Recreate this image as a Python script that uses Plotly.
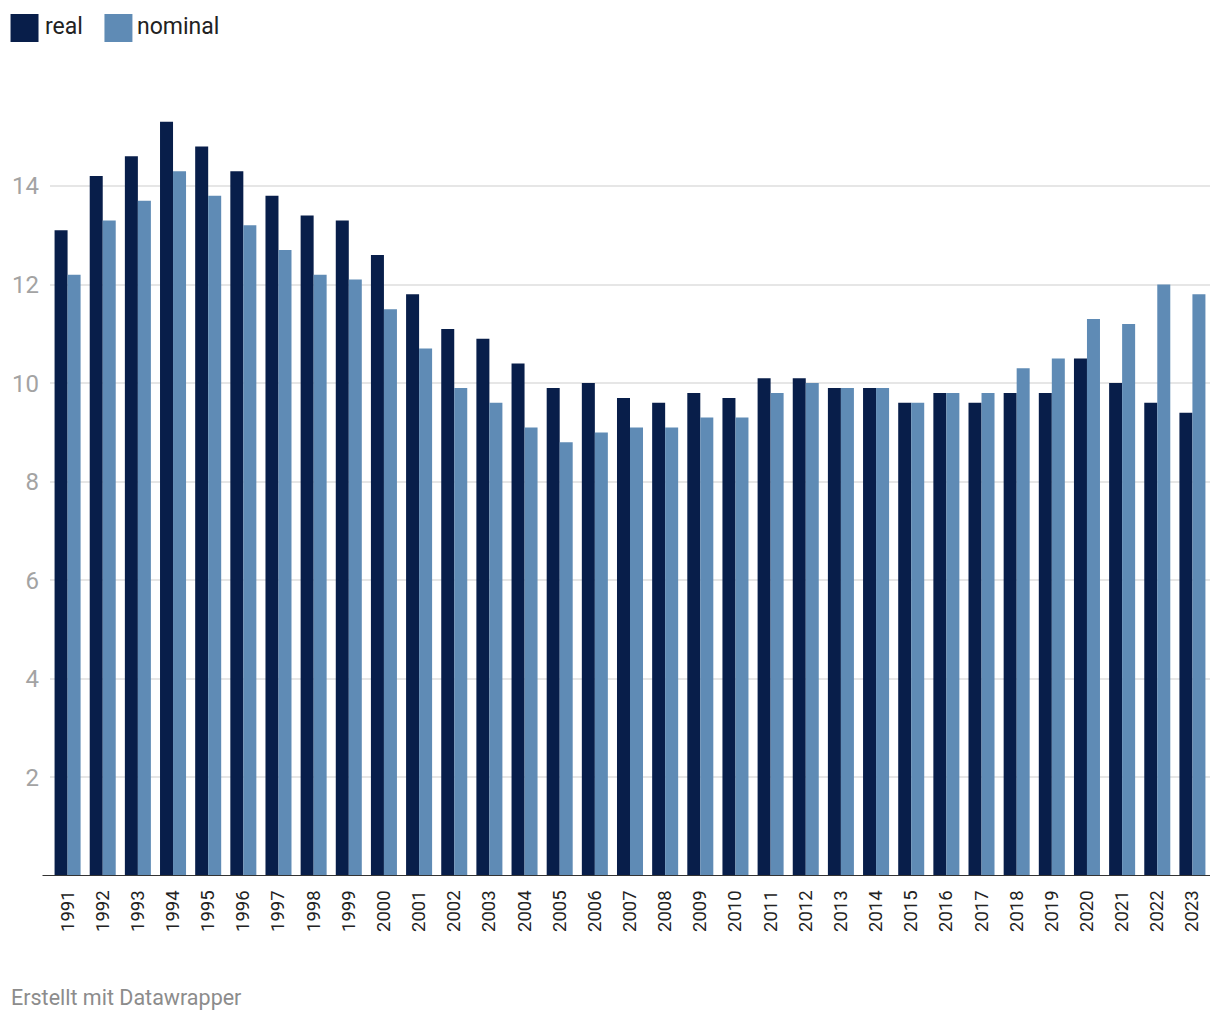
import plotly.graph_objects as go

years = [str(y) for y in range(1991, 2024)]
real = [13.1, 14.2, 14.6, 15.3, 14.8, 14.3, 13.8, 13.4, 13.3, 12.6, 11.8, 11.1, 10.9, 10.4,
        9.9, 10.0, 9.7, 9.6, 9.8, 9.7, 10.1, 10.1, 9.9, 9.9, 9.6, 9.8, 9.6, 9.8, 9.8, 10.5,
        10.0, 9.6, 9.4]
nominal = [12.2, 13.3, 13.7, 14.3, 13.8, 13.2, 12.7, 12.2, 12.1, 11.5, 10.7, 9.9, 9.6, 9.1,
           8.8, 9.0, 9.1, 9.1, 9.3, 9.3, 9.8, 10.0, 9.9, 9.9, 9.6, 9.8, 9.8, 10.3, 10.5, 11.3,
           11.2, 12.0, 11.8]
y_ticks = [2, 4, 6, 8, 10, 12, 14]
series_names = ["real", "nominal"]

C_REAL = "#081e4a"
C_NOM = "#5f8bb5"
FONT = "Roboto"

# page has an 8px body margin; figure is sized so that it fills the 1220x1020 window
OFF = 8
W, H = 1220 - OFF, 1020 - OFF
PLOT_X0, PLOT_X1 = 49.5, 1210.5      # page pixels
PLOT_Y0, PLOT_Y1 = 112, 876          # page pixels (top, bottom)
L = PLOT_X0 - OFF
R = (W + OFF) - PLOT_X1
T = PLOT_Y0 - OFF
B = (H + OFF) - PLOT_Y1
PW, PH = PLOT_X1 - PLOT_X0, PLOT_Y1 - PLOT_Y0


def px(x):
    return (x - PLOT_X0) / PW


def py(y):
    return (PLOT_Y1 - y) / PH


fig = go.Figure()
fig.add_trace(go.Bar(x=years, y=real, name=series_names[0], marker_color=C_REAL,
                     marker_line_width=0))
fig.add_trace(go.Bar(x=years, y=nominal, name=series_names[1], marker_color=C_NOM,
                     marker_line_width=0))

shapes = [
    dict(type="line", xref="paper", yref="y", x0=px(42), x1=1, y0=0, y1=0,
         line=dict(color="#333333", width=2), layer="above"),
    dict(type="rect", xref="paper", yref="paper", x0=px(10), x1=px(38), y0=py(42), y1=py(14),
         fillcolor=C_REAL, line_width=0),
    dict(type="rect", xref="paper", yref="paper", x0=px(104), x1=px(132), y0=py(42), y1=py(14),
         fillcolor=C_NOM, line_width=0),
]
annotations = [
    dict(text=series_names[0], xref="paper", yref="paper", x=px(42), y=py(27), xanchor="left",
         yanchor="middle", showarrow=False, font=dict(family=FONT, size=23, color="#222222")),
    dict(text=series_names[1], xref="paper", yref="paper", x=px(135), y=py(27), xanchor="left",
         yanchor="middle", showarrow=False, font=dict(family=FONT, size=23, color="#222222")),
    dict(text="Erstellt mit Datawrapper", xref="paper", yref="paper", x=px(8), y=py(997),
         xanchor="left", yanchor="middle", showarrow=False,
         font=dict(family=FONT, size=21.5, color="#8c8c8c")),
]

fig.update_layout(
    width=W, height=H,
    margin=dict(l=L, r=R, t=T, b=B, autoexpand=False),
    paper_bgcolor="white", plot_bgcolor="white",
    barmode="group", bargap=0.26, bargroupgap=0,
    showlegend=False,
    font=dict(family=FONT),
    shapes=shapes, annotations=annotations,
    xaxis=dict(type="category", tickangle=-90, showgrid=False, showline=False, zeroline=False,
               ticks="outside", ticklen=6, tickcolor="rgba(0,0,0,0)",
               tickfont=dict(family=FONT, size=18.5, color="#222222")),
    yaxis=dict(range=[0, 15.5], tickvals=y_ticks, ticktext=[str(v) for v in y_ticks],
               showgrid=True, gridcolor="#e6e6e6", gridwidth=1.5, zeroline=False,
               showline=False, ticks="", ticklabelstandoff=10,
               tickfont=dict(family=FONT, size=24, color="#a3a3a3")),
)

fig.write_html("out.html")
